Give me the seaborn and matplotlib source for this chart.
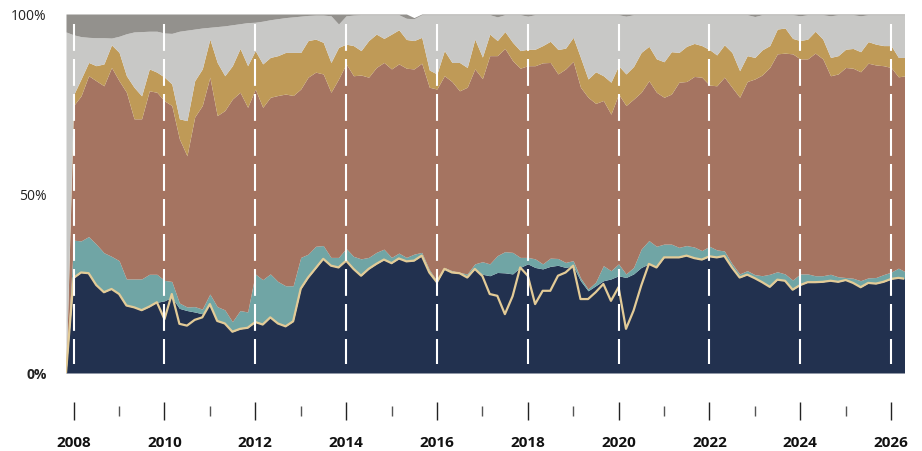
import pandas as pd
import matplotlib
matplotlib.use('Agg')
import matplotlib.pyplot as plt
import seaborn as sns

# bimonthly observations, Nov 2007 .. May 2026 (shares in %)
dates = pd.date_range('2007-11-01', periods=112, freq='2MS')

navy = [0.0,
        26.5, 28.0, 27.8, 24.5, 22.5, 23.4,
        22.0, 18.8, 18.3, 17.5, 18.5, 19.7,
        20.1, 21.1, 18.0, 17.4, 17.0, 16.5,
        19.2, 14.5, 13.8, 11.5, 12.3, 12.6,
        14.2, 13.5, 15.5, 13.8, 13.0, 14.4,
        23.5, 26.6, 29.2, 31.8, 29.9, 29.4,
        31.3, 29.0, 27.1, 29.0, 30.4, 31.6,
        30.6, 31.9, 31.1, 31.3, 32.7, 28.0,
        25.3, 29.0, 28.0, 27.8, 26.6, 29.0,
        27.5, 27.1, 28.0, 27.9, 27.6, 29.4,
        30.4, 29.4, 29.0, 29.7, 30.0, 29.4,
        29.9, 25.7, 22.9, 24.3, 25.7, 26.2,
        27.1, 26.6, 27.6, 29.4, 30.4, 29.4,
        32.2, 32.2, 32.2, 32.7, 32.0, 31.6,
        32.5, 32.2, 32.6, 29.4, 26.6, 27.4,
        26.4, 25.3, 24.0, 26.0, 25.7, 23.2,
        24.5, 25.3, 25.3, 25.4, 25.7, 25.4,
        25.9, 25.1, 23.9, 25.1, 24.9, 25.4,
        26.2, 26.5, 26.2]

teal = [0.0,
        10.5, 8.8, 10.2, 11.4, 11.0, 9.1,
        9.3, 7.4, 7.9, 8.7, 9.0, 7.8,
        5.7, 4.4, 1.5, 1.0, 1.5, 1.3,
        2.8, 4.0, 3.8, 2.8, 5.1, 4.4,
        13.4, 12.5, 12.1, 11.7, 11.3, 9.9,
        8.7, 6.5, 6.1, 3.7, 2.3, 2.8,
        3.4, 3.5, 4.7, 3.2, 3.2, 2.9,
        1.6, 1.5, 1.1, 1.8, 0.9, 0.8,
        0.4, 0.4, 0.5, 0.2, 1.0, 1.4,
        3.5, 3.3, 4.7, 5.9, 6.0, 2.8,
        1.8, 2.4, 1.4, 2.3, 1.9, 1.4,
        1.4, 0.8, 0.5, 1.0, 4.2, 2.3,
        3.3, 1.0, 1.8, 5.1, 6.5, 5.9,
        3.7, 3.7, 2.8, 2.8, 3.1, 2.5,
        2.8, 2.1, 1.4, 1.1, 1.0, 1.1,
        1.0, 1.8, 3.5, 2.2, 1.9, 2.7,
        3.1, 2.3, 1.8, 1.7, 1.8, 1.4,
        0.7, 1.3, 1.8, 1.4, 1.7, 2.0,
        1.9, 2.7, 1.9]

brown = [0.0,
         37.5, 40.4, 44.8, 45.5, 46.5, 52.6,
         50.1, 52.0, 44.6, 44.6, 51.1, 50.7,
         50.0, 49.0, 45.7, 42.1, 52.8, 56.7,
         60.4, 53.2, 55.5, 62.0, 60.8, 57.0,
         51.5, 48.0, 49.2, 51.8, 53.4, 53.0,
         46.9, 49.3, 48.5, 47.8, 46.0, 49.7,
         51.4, 50.3, 51.2, 50.2, 51.5, 52.0,
         52.5, 52.7, 52.7, 51.6, 52.7, 50.8,
         53.4, 53.4, 52.7, 50.6, 52.0, 54.3,
         51.0, 58.0, 55.7, 56.6, 53.4, 52.7,
         53.4, 53.8, 56.0, 54.5, 51.4, 53.9,
         55.5, 53.1, 53.4, 49.8, 46.0, 43.6,
         47.3, 46.9, 46.9, 43.7, 44.5, 42.9,
         40.9, 41.8, 46.0, 45.7, 47.5, 48.3,
         44.9, 45.7, 48.4, 49.1, 49.2, 52.7,
         54.5, 55.9, 57.6, 60.7, 61.5, 63.0,
         59.9, 59.9, 62.0, 60.4, 55.3, 56.5,
         58.5, 58.5, 58.2, 59.8, 59.2, 58.2,
         57.0, 53.3, 54.7]

gold = [0.0,
        3.0, 4.7, 3.7, 4.2, 6.1, 6.3,
        7.9, 4.6, 8.8, 6.4, 6.1, 5.6,
        6.6, 6.0, 5.6, 9.8, 10.1, 10.2,
        10.6, 14.8, 9.7, 9.3, 12.2, 11.6,
        10.7, 12.1, 11.1, 11.1, 11.6, 12.0,
        10.2, 10.2, 9.2, 8.8, 8.3, 8.8,
        5.5, 8.4, 6.8, 10.2, 9.3, 6.7,
        9.7, 9.5, 8.0, 7.9, 7.2, 4.8,
        4.2, 7.0, 5.3, 7.9, 5.5, 8.3,
        6.0, 6.0, 4.2, 4.7, 5.1, 4.9,
        4.6, 4.6, 4.8, 5.9, 6.8, 5.8,
        6.7, 8.3, 5.1, 8.8, 6.9, 8.9,
        7.9, 8.8, 9.1, 11.1, 9.6, 9.3,
        9.9, 11.8, 8.3, 9.8, 9.2, 8.8,
        9.9, 8.6, 9.0, 9.7, 7.4, 7.2,
        6.0, 7.0, 6.1, 6.9, 7.0, 4.3,
        5.1, 5.5, 6.1, 5.5, 5.1, 5.1,
        5.1, 5.5, 5.6, 6.0, 5.8, 5.6,
        6.1, 5.4, 5.1]

light_gray = [95.0,
              16.7, 11.8, 7.0, 7.8, 7.3, 1.9,
              4.5, 11.7, 15.4, 17.9, 10.5, 11.4,
              12.3, 14.1, 24.4, 25.2, 14.4, 11.4,
              3.3, 10.0, 13.9, 11.4, 6.9, 12.0,
              7.9, 11.9, 10.5, 10.3, 9.7, 9.9,
              10.1, 7.0, 6.7, 7.6, 13.0, 6.5,
              7.9, 8.5, 10.0, 7.2, 5.4, 6.6,
              5.4, 4.2, 5.9, 6.1, 6.3, 15.4,
              16.5, 10.0, 13.3, 13.3, 14.7, 6.8,
              11.8, 5.4, 6.6, 4.7, 7.7, 10.0,
              9.2, 9.6, 8.6, 7.4, 9.7, 9.3,
              6.3, 11.9, 17.9, 15.9, 17.0, 18.8,
              14.2, 16.1, 14.4, 10.5, 8.8, 12.3,
              13.1, 10.3, 10.5, 8.8, 8.0, 8.6,
              9.7, 11.2, 8.4, 10.5, 15.6, 11.4,
              11.4, 9.8, 8.6, 4.0, 3.7, 6.6,
              6.9, 6.8, 4.6, 6.8, 11.6, 11.4,
              9.6, 9.4, 10.0, 7.5, 8.2, 8.6,
              8.6, 11.9, 11.9]

dark_gray = [5.0,
             5.8, 6.3, 6.5, 6.6, 6.6, 6.7,
             6.2, 5.5, 5.0, 4.9, 4.8, 4.8,
             5.3, 5.4, 4.8, 4.5, 4.2, 3.9,
             3.7, 3.5, 3.3, 3.0, 2.7, 2.4,
             2.3, 2.0, 1.6, 1.3, 1.0, 0.8,
             0.6, 0.4, 0.3, 0.3, 0.5, 2.8,
             0.5, 0.3, 0.2, 0.2, 0.2, 0.2,
             0.2, 0.2, 1.2, 0.3, 0.2, 0.2,
             0.2, 0.2, 0.2, 0.2, 0.2, 0.2,
             0.2, 0.2, 0.8, 0.2, 0.2, 0.2,
             0.6, 0.2, 0.2, 0.2, 0.2, 0.2,
             0.2, 0.2, 0.2, 0.2, 0.2, 0.2,
             0.2, 0.6, 0.2, 0.2, 0.2, 0.2,
             0.2, 0.2, 0.2, 0.2, 0.2, 0.2,
             0.2, 0.2, 0.2, 0.2, 0.2, 0.2,
             0.7, 0.2, 0.2, 0.2, 0.2, 0.2,
             0.5, 0.2, 0.2, 0.2, 0.5, 0.2,
             0.2, 0.2, 0.5, 0.2, 0.2, 0.2,
             0.2, 0.2, 0.2]

line = [0.0,
        26.5, 28.0, 27.8, 24.5, 22.5, 23.4,
        22.0, 18.8, 18.3, 17.5, 18.5, 19.7,
        15.0, 22.0, 13.7, 13.2, 14.8, 15.5,
        19.2, 14.5, 13.8, 11.5, 12.3, 12.6,
        14.2, 13.5, 15.5, 13.8, 13.0, 14.4,
        23.5, 26.6, 29.2, 31.8, 29.9, 29.4,
        31.3, 29.0, 27.1, 29.0, 30.4, 31.6,
        30.6, 31.9, 31.1, 31.3, 32.7, 28.0,
        25.3, 29.0, 28.0, 27.8, 26.6, 29.0,
        27.0, 22.0, 21.5, 16.4, 21.4, 29.4,
        27.1, 19.2, 22.9, 22.9, 27.1, 28.0,
        29.9, 20.6, 20.6, 22.5, 24.8, 20.1,
        23.9, 12.3, 17.4, 24.3, 30.4, 29.4,
        32.2, 32.2, 32.2, 32.7, 32.0, 31.6,
        32.5, 32.2, 32.6, 29.4, 26.6, 27.4,
        26.4, 25.3, 24.0, 26.0, 25.7, 23.2,
        24.5, 25.3, 25.3, 25.4, 25.7, 25.4,
        25.9, 25.1, 23.9, 25.1, 24.9, 25.4,
        26.2, 26.5, 26.2]

major_years = [2008, 2010, 2012, 2014, 2016, 2018, 2020, 2022, 2024, 2026]
minor_years = [2009, 2011, 2013, 2015, 2017, 2019, 2021, 2023, 2025]
y_ticks = [0, 50, 100]
y_labels = ['0%', '50%', '100%']

colors = ['#22314F', '#70A5A5', '#A57461', '#BF9A57', '#C8C8C6', '#93918D']

sns.set_theme(style='white')
plt.rcParams['font.family'] = ['Open Sans', 'DejaVu Sans']

fig = plt.figure(figsize=(9.22, 4.52), dpi=100)
ax = fig.add_axes([66 / 922, 78 / 452, 838 / 922, 359 / 452])

ax.stackplot(dates, navy, teal, brown, gold, light_gray, dark_gray,
             colors=colors, linewidth=0)
sns.lineplot(x=dates, y=line, color='#E3CB97', linewidth=1.6, ax=ax)

# white dashed guides at even years
for yr in major_years:
    d = pd.Timestamp(f'{yr}-01-01')
    ax.plot([d, d], [0.972, 0.025], transform=ax.get_xaxis_transform(),
            color='white', lw=1.5, dashes=(12.9, 3.9), zorder=5)

ax.set_xlim(pd.Timestamp('2007-11-01'), pd.Timestamp('2026-04-15'))
ax.set_ylim(0, 100)

ax.set_xticks([pd.Timestamp(f'{y}-01-01') for y in major_years],
              labels=[str(y) for y in major_years])
ax.set_xticks([pd.Timestamp(f'{y}-01-01') for y in minor_years], minor=True)
ax.set_yticks(y_ticks, labels=y_labels)
ax.set_xlabel('')
ax.set_ylabel('')

for s in ax.spines.values():
    s.set_visible(False)
ax.spines['bottom'].set_position(('outward', 27.4))

ax.tick_params(axis='x', which='major', bottom=True, direction='inout',
               length=13, width=1.0, color='#222222', pad=11,
               labelsize=11, labelcolor='#111111')
ax.tick_params(axis='x', which='minor', bottom=True, direction='inout',
               length=6.5, width=1.0, color='#555555')
ax.tick_params(axis='y', left=False, length=0, pad=14, labelsize=10,
               labelcolor='#222222')

for lbl in ax.get_xticklabels():
    lbl.set_fontweight('bold')
ax.get_yticklabels()[0].set_fontweight('bold')

fig.savefig('out.png', dpi=100)
